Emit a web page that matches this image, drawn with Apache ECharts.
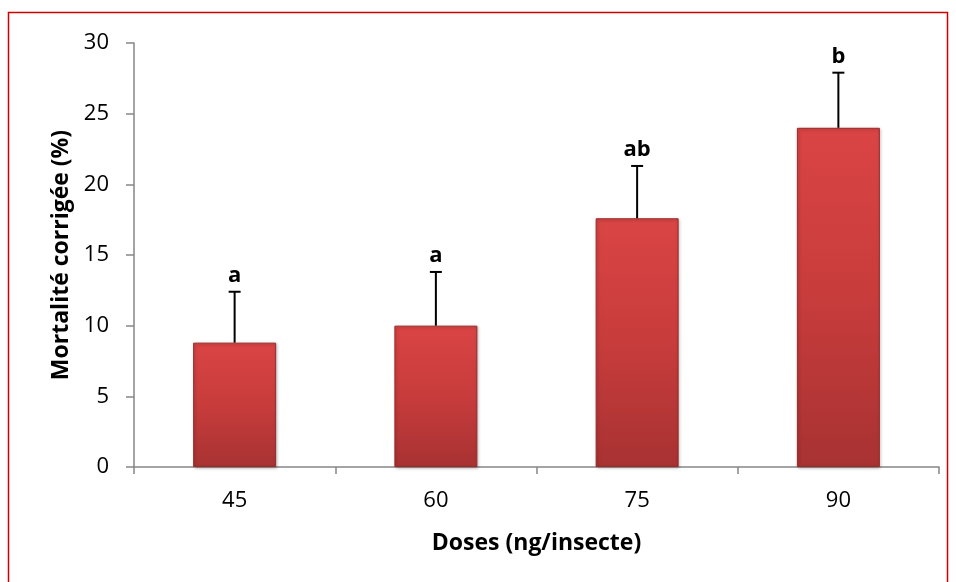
<!DOCTYPE html>
<html><head><meta charset="utf-8">
<script src="https://cdn.jsdelivr.net/npm/echarts@6/dist/echarts.min.js"></script>
<style>html,body{margin:0;padding:0;background:#fff}#c{width:956px;height:582px}</style>
</head><body><div id="c"></div>
<script>
const categories = ['45', '60', '75', '90'];
const meanValues = [8.8, 10.0, 17.6, 24.0];
const errorValues = [3.6, 3.8, 3.7, 3.9];
const groupLetters = ['a', 'a', 'ab', 'b'];
const yTicks = [0, 5, 10, 15, 20, 25, 30];

const FONT = '"Open Sans", sans-serif';
const chart = echarts.init(document.getElementById('c'), null, {renderer: 'canvas'});

const errData = categories.map((c, i) => [i, meanValues[i], meanValues[i] + errorValues[i], groupLetters[i]]);

chart.setOption({
  animation: false,
  backgroundColor: '#fff',
  grid: {left: 134, right: 17, top: 43, bottom: 115, containLabel: false},
  graphic: [{
    type: 'rect', silent: true, z: 100,
    shape: {x: 8.5, y: 12.5, width: 939, height: 600},
    style: {fill: 'none', stroke: '#d00000', lineWidth: 1.5}
  }],
  xAxis: {
    type: 'category', data: categories,
    name: 'Doses (ng/insecte)', nameLocation: 'middle', nameGap: 65,
    nameTextStyle: {fontFamily: FONT, fontWeight: 'bold', fontSize: 23, color: '#000'},
    axisLine: {lineStyle: {color: '#868686', width: 1.5}},
    axisTick: {show: true, length: 7, inside: false, lineStyle: {color: '#868686', width: 1.5}, alignWithLabel: false},
    axisLabel: {fontFamily: FONT, fontSize: 22, color: '#000', margin: 23}
  },
  yAxis: {
    type: 'value', min: 0, max: 30, interval: 5,
    name: 'Mortalité corrigée (%)', nameLocation: 'middle', nameGap: 57,
    nameTextStyle: {fontFamily: FONT, fontWeight: 'bold', fontSize: 23, color: '#000'},
    axisLine: {show: true, lineStyle: {color: '#868686', width: 1.5}},
    axisTick: {show: true, length: 8, lineStyle: {color: '#868686', width: 1.5}},
    splitLine: {show: false},
    axisLabel: {fontFamily: FONT, fontSize: 22, color: '#000', margin: 25,
      formatter: v => yTicks.includes(v) ? String(v) : ''}
  },
  series: [{
    type: 'bar', data: meanValues, barWidth: 83, z: 2,
    itemStyle: {
      color: new echarts.graphic.LinearGradient(0, 0, 0, 1, [
        {offset: 0, color: '#d94444'},
        {offset: 0.06, color: '#d84343'},
        {offset: 0.5, color: '#c83c3c'},
        {offset: 1, color: '#a83232'}
      ]),
      borderColor: '#9a2a2a', borderWidth: 1,
      shadowColor: 'rgba(0,0,0,0.25)', shadowBlur: 3, shadowOffsetX: 1, shadowOffsetY: 1
    }
  }, {
    type: 'custom', z: 3, data: errData,
    renderItem: (params, api) => {
      const x = api.coord([api.value(0), api.value(1)])[0];
      const yLow = api.coord([api.value(0), api.value(1)])[1];
      const yHigh = api.coord([api.value(0), api.value(2)])[1];
      const cap = 6;
      return {type: 'group', children: [
        {type: 'line', shape: {x1: x, y1: yLow, x2: x, y2: yHigh}, style: {stroke: '#000', lineWidth: 2}},
        {type: 'line', shape: {x1: x - cap, y1: yHigh, x2: x + cap, y2: yHigh}, style: {stroke: '#000', lineWidth: 2}},
        {type: 'text', x: x, y: yHigh - 5, style: {text: api.value(3), fill: '#000',
          font: 'bold 22px ' + FONT, textAlign: 'center', textVerticalAlign: 'bottom'}}
      ]};
    }
  }]
});
</script></body></html>
